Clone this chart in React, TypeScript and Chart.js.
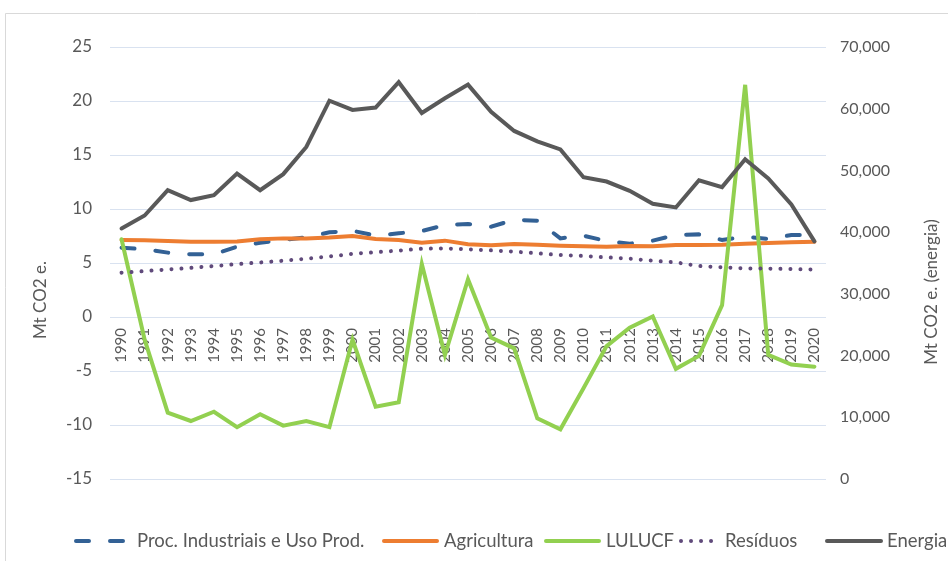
import React, { useEffect, useRef } from "react";
import { Chart, registerables } from "chart.js";

Chart.register(...registerables);

const years = [
  "1990", "1991", "1992", "1993", "1994", "1995", "1996", "1997", "1998", "1999",
  "2000", "2001", "2002", "2003", "2004", "2005", "2006", "2007", "2008", "2009",
  "2010", "2011", "2012", "2013", "2014", "2015", "2016", "2017", "2018", "2019", "2020",
];

const procIndustriais = [
  6.42, 6.27, 5.96, 5.8, 5.8, 6.51, 6.88, 7.13, 7.38, 7.84,
  7.99, 7.53, 7.75, 7.96, 8.52, 8.61, 8.36, 9.0, 8.92, 7.28,
  7.53, 7.04, 6.79, 7.07, 7.59, 7.65, 7.13, 7.44, 7.22, 7.59, 7.59,
];

const agricultura = [
  7.13, 7.1, 7.04, 6.97, 6.97, 7.0, 7.19, 7.28, 7.28, 7.35,
  7.5, 7.22, 7.13, 6.88, 7.07, 6.73, 6.64, 6.76, 6.7, 6.6,
  6.54, 6.51, 6.57, 6.54, 6.67, 6.67, 6.7, 6.79, 6.85, 6.91, 6.97,
];

const lulucf = [
  7.2, -2.1, -8.86, -9.63, -8.77, -10.2, -9.0, -10.06, -9.63, -10.2,
  -2.1, -8.3, -7.9, 4.9, -3.52, 3.5, -1.9, -2.9, -9.38, -10.4,
  -6.6, -2.7, -1.0, 0.05, -4.8, -3.6, 1.1, 21.5, -3.5, -4.4, -4.6,
];

const residuos = [
  4.1, 4.25, 4.4, 4.55, 4.72, 4.9, 5.05, 5.21, 5.4, 5.6,
  5.85, 6.0, 6.15, 6.32, 6.35, 6.27, 6.17, 6.05, 5.9, 5.74,
  5.65, 5.52, 5.4, 5.21, 5.06, 4.72, 4.6, 4.5, 4.48, 4.44, 4.4,
];

const energia = [
  40600, 42700, 46800, 45200, 46000, 49500, 46800, 49400, 53800, 61300,
  59800, 60200, 64300, 59300, 61700, 63900, 59500, 56400, 54700, 53400,
  48900, 48200, 46700, 44600, 44000, 48400, 47300, 51800, 48700, 44500, 38500,
];

const seriesNames = ["Proc. Industriais e Uso Prod.", "Agricultura", "LULUCF", "Resíduos", "Energia"];
const leftTitle = "Mt CO2 e.";
const rightTitle = "Mt CO2 e. (energia)";

const FONT = "Lato";
const TEXT = "#595959";
const COLORS = {
  proc: "#336195",
  agri: "#ED7D31",
  lulucf: "#92D050",
  res: "#604A7B",
  energia: "#595959",
};

// legend layout: [sample start, sample end, text start]
const LEGEND_LAYOUT = [
  [74, 131, 137],
  [382, 439, 444],
  [544, 601, 606],
  [679, 721, 725],
  [825, 883, 887],
];

const decorPlugin = {
  id: "decor",
  beforeDraw(chart: any) {
    const { ctx, width, height } = chart;
    ctx.save();
    ctx.fillStyle = "#ffffff";
    ctx.fillRect(0, 0, width, height);
    ctx.strokeStyle = "#d9d9d9";
    ctx.lineWidth = 1;
    ctx.beginPath();
    ctx.moveTo(5.5, height);
    ctx.lineTo(5.5, 13.5);
    ctx.lineTo(width, 13.5);
    ctx.stroke();
    ctx.restore();
  },
  afterDraw(chart: any) {
    const { ctx } = chart;
    ctx.save();
    ctx.fillStyle = TEXT;
    ctx.font = `17px ${FONT}`;
    ctx.textAlign = "center";
    ctx.textBaseline = "middle";
    ctx.save();
    ctx.translate(41, 300);
    ctx.rotate(-Math.PI / 2);
    ctx.fillText(leftTitle, 0, 0);
    ctx.restore();
    ctx.save();
    ctx.translate(932, 292);
    ctx.rotate(-Math.PI / 2);
    ctx.fillText(rightTitle, 0, 0);
    ctx.restore();

    const y = 541;
    chart.data.datasets.forEach((ds: any, i: number) => {
      const [s0, s1, tx] = LEGEND_LAYOUT[i];
      ctx.save();
      ctx.strokeStyle = ds.borderColor;
      ctx.lineWidth = ds.borderWidth;
      ctx.lineCap = ds.borderCapStyle || "round";
      ctx.setLineDash(ds.borderDash || []);
      ctx.beginPath();
      ctx.moveTo(s0 + 2, y);
      ctx.lineTo(s1 - 2, y);
      ctx.stroke();
      ctx.restore();
      ctx.fillStyle = TEXT;
      ctx.font = `18.5px ${FONT}`;
      ctx.textAlign = "left";
      ctx.textBaseline = "middle";
      ctx.fillText(ds.label, tx, y);
    });
    ctx.restore();
  },
};

export default function App() {
  const ref = useRef<HTMLCanvasElement | null>(null);

  useEffect(() => {
    if (!ref.current) return;
    const mk = (label: string, data: number[], axis: string, color: string, order: number, extra: any = {}) => ({
      label,
      data,
      yAxisID: axis,
      borderColor: color,
      backgroundColor: color,
      borderWidth: 4,
      borderCapStyle: "round",
      pointRadius: 0,
      tension: 0,
      order,
      ...extra,
    });
    const chart = new Chart(ref.current, {
      type: "line",
      data: {
        labels: years,
        datasets: [
          mk(seriesNames[0], procIndustriais, "y", COLORS.proc, 4, { borderDash: [13, 21] }),
          mk(seriesNames[1], agricultura, "y", COLORS.agri, 3),
          mk(seriesNames[2], lulucf, "y", COLORS.lulucf, 2),
          mk(seriesNames[3], residuos, "y", COLORS.res, 1, { borderDash: [0.01, 10] }),
          mk(seriesNames[4], energia, "y1", COLORS.energia, 0),
        ] as any,
      },
      options: {
        responsive: false,
        animation: false,
        devicePixelRatio: 1,
        layout: { padding: { left: 0, right: 0, top: 47, bottom: 82 } },
        plugins: {
          legend: { display: false },
          tooltip: { enabled: false },
        },
        scales: {
          x: {
            type: "category",
            position: { y: 0 } as any,
            offset: true,
            grid: { display: false, drawTicks: false },
            border: { display: false },
            ticks: {
              autoSkip: false,
              minRotation: 90,
              maxRotation: 90,
              padding: 11,
              color: TEXT,
              font: { family: FONT, size: 15 },
            },
          },
          y: {
            type: "linear",
            position: "left",
            min: -15,
            max: 25,
            grid: { color: "#d9e2f0", lineWidth: 1, drawTicks: false },
            border: { display: false },
            ticks: {
              stepSize: 5,
              padding: 18,
              color: TEXT,
              font: { family: FONT, size: 17 },
            },
            afterFit(scale: any) {
              scale.width = 110;
            },
          },
          y1: {
            type: "linear",
            position: "right",
            min: 0,
            max: 70000,
            grid: { display: false, drawTicks: false },
            border: { display: false },
            ticks: {
              stepSize: 10000,
              padding: 14,
              color: TEXT,
              font: { family: FONT, size: 16 },
              callback: (v: any) => Number(v).toLocaleString("en-US"),
            },
            afterFit(scale: any) {
              scale.width = 122;
            },
          },
        },
      },
      plugins: [decorPlugin],
    });
    return () => chart.destroy();
  }, []);

  return (
    <div style={{ position: "absolute", left: 0, top: 0, width: 948, height: 561, overflow: "hidden" }}>
      <canvas ref={ref} width={948} height={561} style={{ display: "block" }} />
    </div>
  );
}
